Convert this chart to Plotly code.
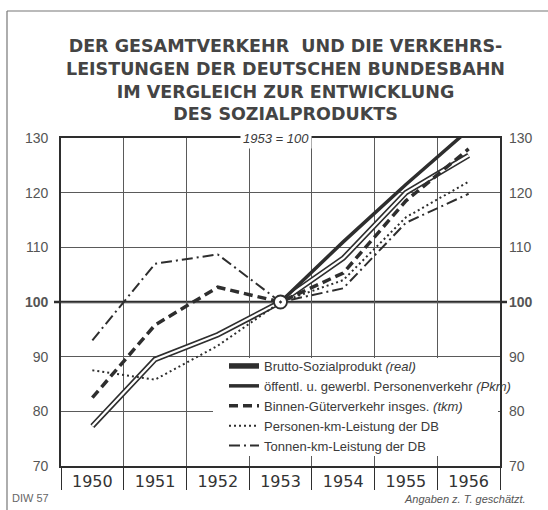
import plotly.graph_objects as go

years = [1950, 1951, 1952, 1953, 1954, 1955, 1956]
brutto = [77.3, 89.5, 94.0, 100, 108.0, 120.0, 126.8]
oeffentl_years = [1953, 1954, 1955, 1956]
oeffentl = [100, 111.0, 121.5, 131.5]
binnen = [82.5, 95.8, 102.7, 100, 105.3, 118.5, 128.0]
personen_db = [87.5, 85.8, 92.0, 100, 104.0, 115.5, 122.0]
tonnen_db = [93.0, 107.0, 108.7, 100, 102.5, 114.5, 119.8]
base_year = [1953]
base_value = [100]
y_ticks = [70, 80, 90, 100, 110, 120, 130]
y_tick_text = ["70", "80", "90", "<b>100</b>", "110", "120", "130"]

W, H = 548, 510
L, R, T, B = 61, 48, 138, 44
PW, PH = W - L - R, H - T - B

def px(x):
    return (x - L) / PW

def py(y):
    return (H - B - y) / PH

INK = "#2e2e2e"
GRID = "#5a5a5a"
TXT = "#3a3a3a"
FONT = "Liberation Sans"

fig = go.Figure()

fig.add_trace(go.Scatter(x=years, y=brutto, mode="lines",
                         line=dict(color=INK, width=5.5),
                         name="Brutto-Sozialprodukt <i>(real)</i>"))
fig.add_trace(go.Scatter(x=years, y=brutto, mode="lines",
                         line=dict(color="white", width=2.2),
                         showlegend=False, hoverinfo="skip"))
fig.add_trace(go.Scatter(x=oeffentl_years, y=oeffentl, mode="lines",
                         line=dict(color=INK, width=3.5),
                         name="öffentl. u. gewerbl. Personenverkehr <i>(Pkm)</i>"))
fig.add_trace(go.Scatter(x=years, y=binnen, mode="lines",
                         line=dict(color=INK, width=3.5, dash="9px,5px"),
                         name="Binnen-Güterverkehr insges. <i>(tkm)</i>"))
fig.add_trace(go.Scatter(x=years, y=personen_db, mode="lines",
                         line=dict(color=INK, width=2, dash="2px,3px"),
                         name="Personen-km-Leistung der DB"))
fig.add_trace(go.Scatter(x=years, y=tonnen_db, mode="lines",
                         line=dict(color=INK, width=2, dash="11px,4px,2px,4px"),
                         name="Tonnen-km-Leistung der DB"))
fig.add_trace(go.Scatter(x=base_year, y=base_value, mode="markers",
                         marker=dict(symbol="circle-dot", size=13, color="white",
                                     line=dict(color=INK, width=1.8)),
                         showlegend=False, hoverinfo="skip"))
# invisible trace to carry the right-hand axis
fig.add_trace(go.Scatter(x=years, y=brutto, yaxis="y2", mode="lines",
                         line=dict(width=0), opacity=0,
                         showlegend=False, hoverinfo="skip"))

shapes = [
    # white legend background
    dict(type="rect", xref="paper", yref="paper",
         x0=px(213), x1=px(498), y0=py(456), y1=py(358),
         fillcolor="white", line=dict(width=0), layer="above"),
    # emphasised 100 line
    dict(type="line", xref="paper", yref="y", x0=px(54), x1=px(507),
         y0=100, y1=100, line=dict(color=INK, width=2.6), layer="below"),
    # outer frame (top and left)
    dict(type="line", xref="paper", yref="paper", x0=px(7), x1=px(548),
         y0=py(11), y1=py(11), line=dict(color="#777", width=1.2)),
    dict(type="line", xref="paper", yref="paper", x0=px(7), x1=px(7),
         y0=py(11), y1=py(510), line=dict(color="#777", width=1.2)),
]

annotations = [
    dict(text="<b>DER GESAMTVERKEHR  UND DIE VERKEHRS-<br>LEISTUNGEN DER DEUTSCHEN BUNDESBAHN"
              "<br>IM VERGLEICH ZUR ENTWICKLUNG<br>DES SOZIALPRODUKTS</b>",
         xref="paper", yref="paper", x=px(285), y=py(80), xanchor="center", yanchor="middle",
         showarrow=False, font=dict(family="DejaVu Sans", size=17.5, color="#444")),
    dict(text="<i>1953 = 100</i>", xref="x", yref="y", x=1952.93, y=130,
         showarrow=False, bgcolor="white", borderpad=2,
         font=dict(family=FONT, size=13, color=TXT)),
    dict(text="DIW 57", xref="paper", yref="paper", x=px(10), y=py(498),
         xanchor="left", yanchor="middle", showarrow=False,
         font=dict(family=FONT, size=11, color="#666")),
    dict(text="<i>Angaben z. T. geschätzt.</i>", xref="paper", yref="paper",
         x=px(528), y=py(499), xanchor="right", yanchor="middle", showarrow=False,
         font=dict(family=FONT, size=11, color="#555")),
]

fig.update_layout(
    width=W, height=H,
    margin=dict(l=L, r=R, t=T, b=B, pad=0),
    paper_bgcolor="white", plot_bgcolor="white",
    showlegend=True,
    legend=dict(x=px(224), y=py(351), xanchor="left", yanchor="top",
                bgcolor="rgba(0,0,0,0)", borderwidth=0,
                font=dict(family=FONT, size=13, color=TXT),
                tracegroupgap=0, itemwidth=30),
    xaxis=dict(range=[1949.5, 1956.5], tickvals=years,
               ticktext=[str(y) for y in years], ticks="", showgrid=False,
               zeroline=False, showline=True, linecolor=INK, linewidth=1.6,
               mirror=True,
               tickfont=dict(family="DejaVu Sans", size=16, color="#333"),
               minor=dict(tickvals=[1949.5 + i for i in range(8)], ticks="outside",
                          ticklen=22, tickcolor=INK, tickwidth=1.4,
                          showgrid=True, gridcolor=GRID, gridwidth=1.3)),
    yaxis=dict(range=[70, 130], tickvals=y_ticks, ticktext=y_tick_text,
               showgrid=True, gridcolor=GRID, gridwidth=1.3, zeroline=False,
               showline=True, linecolor=INK, linewidth=1.6, mirror=True,
               ticks="", ticklabelstandoff=8,
               tickfont=dict(family=FONT, size=14, color="#555")),
    yaxis2=dict(range=[70, 130], tickvals=y_ticks, ticktext=y_tick_text,
                overlaying="y", side="right", showgrid=False, zeroline=False,
                ticks="", ticklabelstandoff=8,
                tickfont=dict(family=FONT, size=14, color="#555")),
    shapes=shapes,
    annotations=annotations,
)

fig.write_html("out.html", config={"displayModeBar": False},
               post_script="document.body.style.margin='0';document.body.style.overflow='hidden';")
